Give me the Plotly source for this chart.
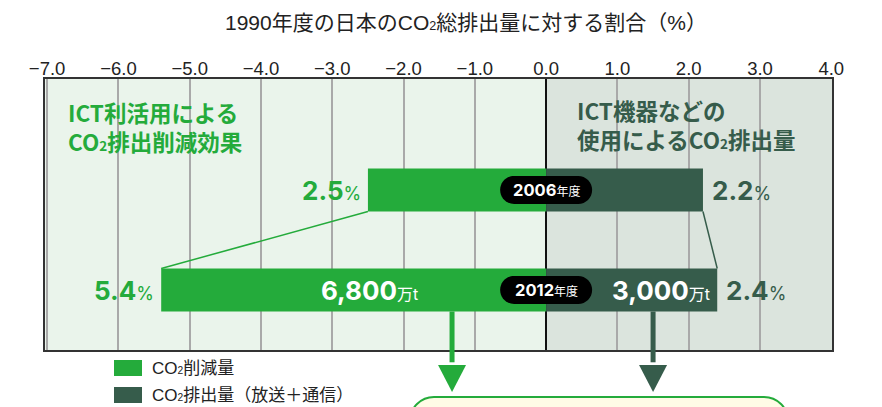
import plotly.graph_objects as go

# ---------------- data ----------------
years = ["2006年度", "2012年度"]
year_nums = ["2006", "2012"]
reduction = [2.5, 5.4]          # CO2削減量 (%), drawn to the left of 0
emission = [2.2, 2.4]           # CO2排出量 (%), drawn to the right of 0
amount_2012 = ["6,800", "3,000"]  # 万t, 2012 reduction / emission
x_ticks = [-7, -6, -5, -4, -3, -2, -1, 0, 1, 2, 3, 4]
SUB2 = "<span style='font-size:60%'>2</span>"
title_text = f"1990年度の日本のCO{SUB2}総排出量に対する割合（%）"
left_label = ["ICT利活用による", f"CO{SUB2}排出削減効果"]
right_label = ["ICT機器などの", f"使用によるCO{SUB2}排出量"]
legend_names = [f"CO{SUB2}削減量", f"CO{SUB2}排出量（放送＋通信）"]

# ---------------- style ----------------
GREEN = "#24ab3b"
DARK = "#365c4b"
BG_L = "#eaf4eb"
BG_R = "#dbe4dd"
OFF = 8                      # page body margin
W, H = 882 - OFF, 407 - OFF
# plot area in page pixels: x 45..832, y 79..350
PX0, PX1, PY0, PY1 = 45, 832, 79, 350
ML, MT = PX0 - OFF, PY0 - OFF
PW, PH = PX1 - PX0, PY1 - PY0
MR, MB = W - ML - PW, H - MT - PH
XR = [-7.03, 4.01]
YR = [1.6, -1.11]
JP = "Noto Sans CJK JP"
NUM = "Inter, Noto Sans CJK JP"
SANS = "Liberation Sans, Noto Sans CJK JP"
BW = 0.43


def px2paper_x(X):
    return (X - PX0) / PW


def px2paper_y(Y):
    return (PY1 - Y) / PH


fig = go.Figure()
fig.add_trace(go.Bar(y=years, x=[-v for v in reduction], orientation="h",
                     marker=dict(color=GREEN, line=dict(width=0)), width=BW,
                     showlegend=False, hoverinfo="skip"))
fig.add_trace(go.Bar(y=years, x=emission, orientation="h",
                     marker=dict(color=DARK, line=dict(width=0)), width=BW,
                     showlegend=False, hoverinfo="skip"))

shapes = []
# background halves
shapes.append(dict(type="rect", xref="x", yref="paper", x0=XR[0], x1=0, y0=0, y1=1,
                   fillcolor=BG_L, line=dict(width=0), layer="below"))
shapes.append(dict(type="rect", xref="x", yref="paper", x0=0, x1=XR[1], y0=0, y1=1,
                   fillcolor=BG_R, line=dict(width=0), layer="below"))
# connecting lines between 2006 and 2012 bars
shapes.append(dict(type="line", xref="x", yref="y", x0=-reduction[0], y0=BW / 2,
                   x1=-reduction[1], y1=1 - BW / 2, line=dict(color=GREEN, width=1.5)))
shapes.append(dict(type="line", xref="x", yref="y", x0=emission[0], y0=BW / 2,
                   x1=emission[1], y1=1 - BW / 2, line=dict(color=DARK, width=1.5)))

# year pills
k = 0.5523
r = 14
hw = 46 - r
pill = (f"M {-hw},{-r} L {hw},{-r} C {hw + k*r},{-r} {hw + r},{-k*r} {hw + r},0 "
        f"C {hw + r},{k*r} {hw + k*r},{r} {hw},{r} L {-hw},{r} "
        f"C {-hw - k*r},{r} {-hw - r},{k*r} {-hw - r},0 "
        f"C {-hw - r},{-k*r} {-hw - k*r},{-r} {-hw},{-r} Z")
for i in range(len(years)):
    shapes.append(dict(type="path", xref="x", yref="y", xsizemode="pixel", ysizemode="pixel",
                       xanchor=0, yanchor=i, path=pill, fillcolor="black",
                       line=dict(width=0), layer="above"))

# arrows below the 2012 bar
y_bar_bottom = (YR[0] - (1 + BW / 2)) / (YR[0] - YR[1])
y_head_top = px2paper_y(365)
for xpos, col in [(-1.32, GREEN), (1.5, DARK)]:
    shapes.append(dict(type="line", xref="x", yref="paper", x0=xpos, x1=xpos,
                       y0=y_bar_bottom, y1=y_head_top + 0.01, line=dict(color=col, width=5)))
    shapes.append(dict(type="path", xref="x", yref="paper", xsizemode="pixel", ysizemode="pixel",
                       xanchor=xpos, yanchor=y_head_top, path="M -14,0 L 14,0 L 0,-27 Z",
                       fillcolor=col, line=dict(width=0)))

# bottom rounded box (partially visible)
bx0 = px2paper_x(410)
rb = 24
wb = 378
box = (f"M 0,-60 L 0,{-rb} C 0,{-rb + k*rb} {rb - k*rb},0 {rb},0 L {wb - rb},0 "
       f"C {wb - rb + k*rb},0 {wb},{-rb + k*rb} {wb},{-rb} L {wb},-60 Z")
shapes.append(dict(type="path", xref="paper", yref="paper", xsizemode="pixel", ysizemode="pixel",
                   xanchor=bx0, yanchor=px2paper_y(397), path=box, fillcolor="#fffbe6",
                   line=dict(color=GREEN, width=2)))

# legend swatches
leg_y = [368, 395]
leg_cols = [GREEN, DARK]
for yy, col in zip(leg_y, leg_cols):
    shapes.append(dict(type="rect", xref="paper", yref="paper",
                       x0=px2paper_x(114), x1=px2paper_x(142),
                       y0=px2paper_y(yy + 8), y1=px2paper_y(yy - 8),
                       fillcolor=col, line=dict(width=0)))

ann = []
ann.append(dict(text=title_text, xref="paper", yref="paper", x=px2paper_x(466), y=px2paper_y(23),
                xanchor="center", yanchor="middle", showarrow=False,
                font=dict(family=SANS, size=21, color="#222")))
ann.append(dict(text="<b>" + "<br>".join(left_label) + "</b>", xref="paper", yref="paper",
                x=px2paper_x(66), y=px2paper_y(126), xanchor="left", yanchor="middle",
                align="left", showarrow=False, font=dict(family=JP, size=22.5, color=GREEN)))
ann.append(dict(text="<b>" + "<br>".join(right_label) + "</b>", xref="paper", yref="paper",
                x=px2paper_x(575), y=px2paper_y(124), xanchor="left", yanchor="middle",
                align="left", showarrow=False, font=dict(family=JP, size=22.5, color=DARK)))

for i in range(len(years)):
    ann.append(dict(text=f"<b>{reduction[i]:.1f}</b><span style='font-size:18px'>%</span>",
                    x=-reduction[i], y=i, xref="x", yref="y", xanchor="right", yanchor="middle",
                    xshift=-5, showarrow=False, font=dict(family=NUM, size=26, color=GREEN)))
    ann.append(dict(text=f"<b>{emission[i]:.1f}</b><span style='font-size:18px'>%</span>",
                    x=emission[i], y=i, xref="x", yref="y", xanchor="left", yanchor="middle",
                    xshift=7, showarrow=False, font=dict(family=NUM, size=26, color=DARK)))
    ann.append(dict(text=f"<b>{year_nums[i]}</b><span style='font-size:12px'>年度</span>",
                    x=0, y=i, xref="x", yref="y", xanchor="center", yanchor="middle",
                    showarrow=False, font=dict(family=NUM, size=16.5, color="white")))

ann.append(dict(text=f"<b>{amount_2012[0]}</b><span style='font-size:16px'>万t</span>",
                x=-2.48, y=1, xref="x", yref="y", xanchor="center", yanchor="middle",
                showarrow=False, font=dict(family=NUM, size=26, color="white")))
ann.append(dict(text=f"<b>{amount_2012[1]}</b><span style='font-size:16px'>万t</span>",
                x=emission[1], y=1, xref="x", yref="y", xanchor="right", yanchor="middle",
                xshift=-5, showarrow=False, font=dict(family=NUM, size=26, color="white")))

for yy, name in zip(leg_y, legend_names):
    ann.append(dict(text=name, xref="paper", yref="paper", x=px2paper_x(150), y=px2paper_y(yy),
                    xanchor="left", yanchor="middle", showarrow=False,
                    font=dict(family=SANS, size=17, color="#222")))

fig.update_layout(
    width=W, height=H, margin=dict(l=ML, r=MR, t=MT, b=MB, autoexpand=False),
    paper_bgcolor="white", plot_bgcolor="white",
    barmode="relative", showlegend=False,
    shapes=shapes, annotations=ann,
    xaxis=dict(range=XR, side="top", tickvals=x_ticks, tickformat=".1f", automargin=False,
               tickfont=dict(family=SANS, size=18.5, color="#222"), ticks="",
               ticklabelstandoff=-5,
               showgrid=True, gridcolor="#a9a9a9", gridwidth=1.5,
               zeroline=True, zerolinecolor="#111", zerolinewidth=1.5,
               showline=True, mirror=True, linecolor="#333", linewidth=1.5),
    yaxis=dict(type="category", categoryarray=years, range=YR, automargin=False,
               showgrid=False, zeroline=False, showticklabels=False,
               showline=True, mirror=True, linecolor="#333", linewidth=1.5),
)

fig.write_html("out.html")
